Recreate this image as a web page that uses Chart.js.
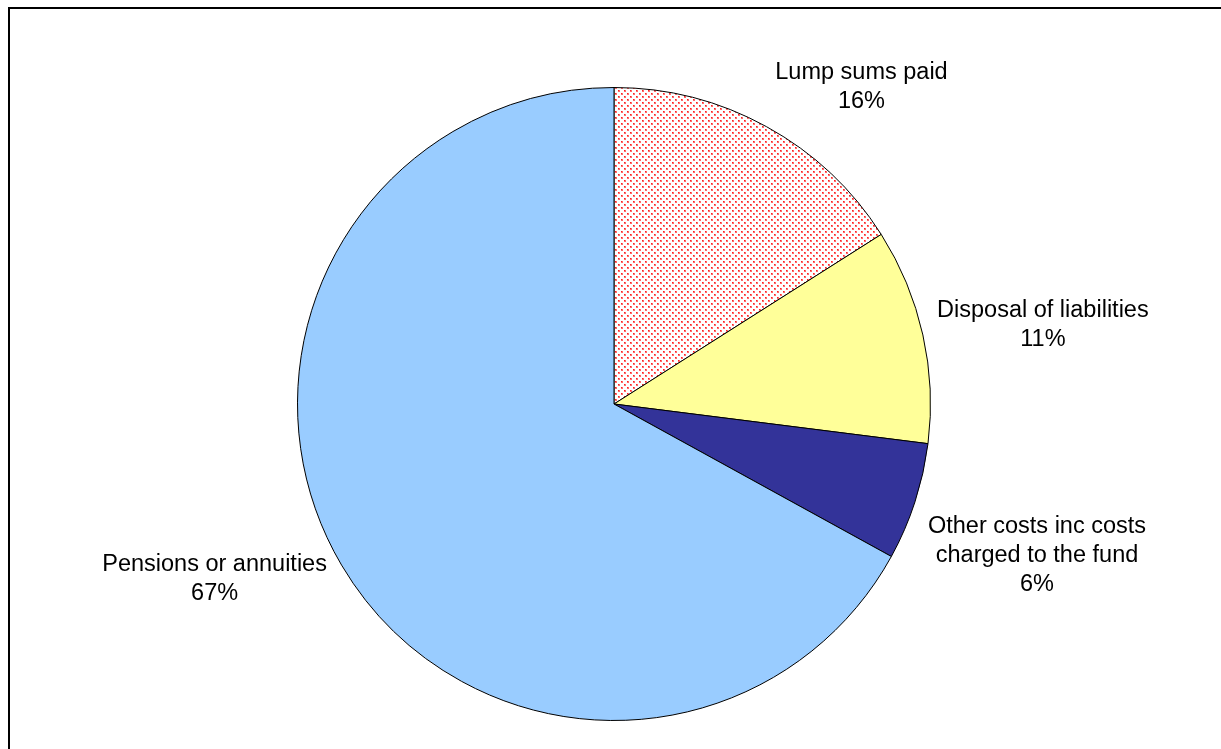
<!DOCTYPE html>
<html>
<head>
<meta charset="utf-8">
<script src="https://cdn.jsdelivr.net/npm/chart.js@4/dist/chart.umd.min.js"></script>
<style>
  html, body { margin: 0; padding: 0; background: #fff; }
  #wrap { position: relative; width: 1221px; height: 749px; overflow: hidden; }
  #frame {
    position: absolute; left: 8px; top: 7px; width: 1240px; height: 780px;
    border-left: 2px solid #000; border-top: 2px solid #000;
  }
  canvas { position: absolute; left: 0; top: 0; }
</style>
</head>
<body>
<div id="wrap">
  <div id="frame"></div>
  <canvas id="pieChart" width="1221" height="749"></canvas>
</div>
<script>
// Benefit payments by type (percent of total)
const categories = [
  ["Lump sums paid"],
  ["Disposal of liabilities"],
  ["Other costs inc costs", "charged to the fund"],
  ["Pensions or annuities"]
];
const shares = [16, 11, 6, 67];

// label offset from the outer edge of each slice, at its middle angle
const labelShift = [[95, -40], [120, -10], [122, 54], [-127, 14]];

// red dotted fill for the lump sums slice
function dotPattern() {
  const c = document.createElement("canvas");
  c.width = 6; c.height = 6;
  const g = c.getContext("2d");
  g.fillStyle = "#fff";
  g.fillRect(0, 0, 6, 6);
  g.fillStyle = "#ff6a6a";
  g.fillRect(0, 0, 2, 2);
  g.fillRect(3, 3, 2, 2);
  g.fillStyle = "#ff2020";
  g.fillRect(0, 0, 1, 1);
  g.fillRect(3, 3, 1, 1);
  return g.createPattern(c, "repeat");
}

const pctLabels = {
  id: "pctLabels",
  afterDatasetsDraw(chart) {
    const ctx = chart.ctx;
    const meta = chart.getDatasetMeta(0);
    const total = shares.reduce((a, b) => a + b, 0);
    ctx.save();
    ctx.font = "23.5px 'Liberation Sans', Arial, sans-serif";
    ctx.fillStyle = "#000";
    ctx.textAlign = "center";
    ctx.textBaseline = "middle";
    meta.data.forEach((arc, i) => {
      const p = arc.getProps(["x", "y", "startAngle", "endAngle", "outerRadius"], true);
      const mid = (p.startAngle + p.endAngle) / 2;
      const ox = p.x + Math.cos(mid) * p.outerRadius;
      const oy = p.y + Math.sin(mid) * p.outerRadius;
      const lines = categories[i].concat([Math.round(shares[i] / total * 100) + "%"]);
      const lh = 29;
      const cx = ox + labelShift[i][0];
      const cy = oy + labelShift[i][1];
      lines.forEach((t, k) => {
        ctx.fillText(t, cx, cy + (k - (lines.length - 1) / 2) * lh);
      });
    });
    ctx.restore();
  }
};

new Chart("pieChart", {
  type: "pie",
  data: {
    labels: categories.map(c => c.join(" ")),
    datasets: [{
      data: shares,
      backgroundColor: [dotPattern(), "#ffff99", "#333399", "#99ccff"],
      borderColor: "#000",
      borderWidth: 1
    }]
  },
  options: {
    responsive: false,
    animation: false,
    layout: { padding: { top: 87, bottom: 28, left: 10, right: 3 } },
    plugins: {
      legend: { display: false },
      tooltip: { enabled: false }
    }
  },
  plugins: [pctLabels]
});
</script>
</body>
</html>
